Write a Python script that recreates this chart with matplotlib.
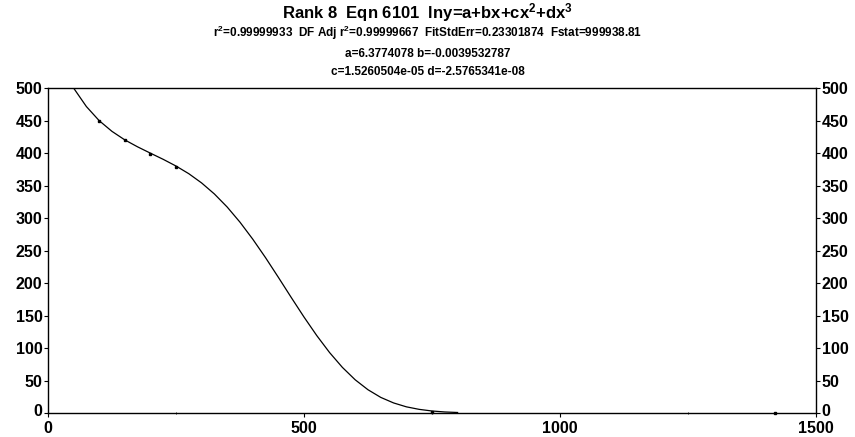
import numpy as np
import matplotlib
matplotlib.use("Agg")
import matplotlib.pyplot as plt
import matplotlib.transforms as mtransforms

plt.rcParams['font.family'] = ['Liberation Sans', 'DejaVu Sans']
plt.rcParams['font.weight'] = 'bold'
plt.rcParams['mathtext.fontset'] = 'custom'
plt.rcParams['mathtext.rm'] = 'Liberation Sans:bold'
plt.rcParams['mathtext.it'] = 'Liberation Sans:bold'
plt.rcParams['mathtext.bf'] = 'Liberation Sans:bold'
plt.rcParams['mathtext.default'] = 'regular'

# fitted curve
curve_x = [50, 75, 100, 125, 150, 175, 200, 225, 250, 275, 300, 325, 350, 375,
           400, 425, 450, 475, 500, 525, 550, 575, 600, 625, 650, 675, 700,
           725, 750, 775, 800]
curve_y = [500.0, 471.5, 449.8, 433.3, 420.2, 409.5, 399.8, 390.3, 380.0, 368.2,
           354.0, 337.0, 316.9, 293.6, 267.4, 238.9, 208.7, 177.9, 147.7, 119.1,
           93.0, 70.2, 51.1, 35.8, 24.0, 15.5, 9.5, 5.6, 3.1, 1.6, 0.8]

# data points
pts_x = [100, 150, 200, 250, 750, 1420]
pts_y = [449, 420, 399, 378, 2, 0]

xticks = [0, 500, 1000, 1500]
yticks = [0, 50, 100, 150, 200, 250, 300, 350, 400, 450, 500]

fig = plt.figure(figsize=(8.55, 4.37), dpi=100)
ax = fig.add_axes([0.0561, 0.0549, 0.8983, 0.7437])

ax.plot(curve_x, curve_y, color='black', lw=0.9)
ax.plot(pts_x, pts_y, 's', color='black', ms=1.6, clip_on=False)

ax.set_xlim(0, 1500)
ax.set_ylim(0, 500)
ax.set_xticks(xticks)
ax.set_xticks([250, 750, 1250], minor=True)
ax.set_yticks(yticks)
ax.tick_params(axis='both', which='major', labelsize=11.5, length=3,
               width=0.8, pad=1)
ax.tick_params(axis='x', which='major', pad=3)
ax.tick_params(axis='x', which='minor', length=2, direction='inout')
ax.tick_params(axis='y', right=True, labelright=True)
for s in ax.spines.values():
    s.set_linewidth(1.0)

# nudge the "0" labels up a little so they clear the x labels
fig.canvas.draw()
zero_tick = ax.yaxis.get_major_ticks()[0]
for lab in (zero_tick.label1, zero_tick.label2):
    lab.set_transform(lab.get_transform() +
                      mtransforms.ScaledTranslation(0, 3 / 100, fig.dpi_scale_trans))

fig.text(0.5, 0.972, 'Rank 8  Eqn 6101  lny=a+bx+cx$^{2}$+dx$^{3}$',
         ha='center', va='center', fontsize=12, fontweight='bold')
fig.text(0.5, 0.925,
         'r$^{2}$=0.99999933  DF Adj r$^{2}$=0.99999667  FitStdErr=0.23301874  Fstat=999938.81',
         ha='center', va='center', fontsize=8.5, fontweight='bold')
fig.text(0.5, 0.876, 'a=6.3774078 b=-0.0039532787',
         ha='center', va='center', fontsize=8.5, fontweight='bold')
fig.text(0.5, 0.836, 'c=1.5260504e-05 d=-2.5765341e-08',
         ha='center', va='center', fontsize=8.5, fontweight='bold')

fig.savefig('out.png', dpi=100)
